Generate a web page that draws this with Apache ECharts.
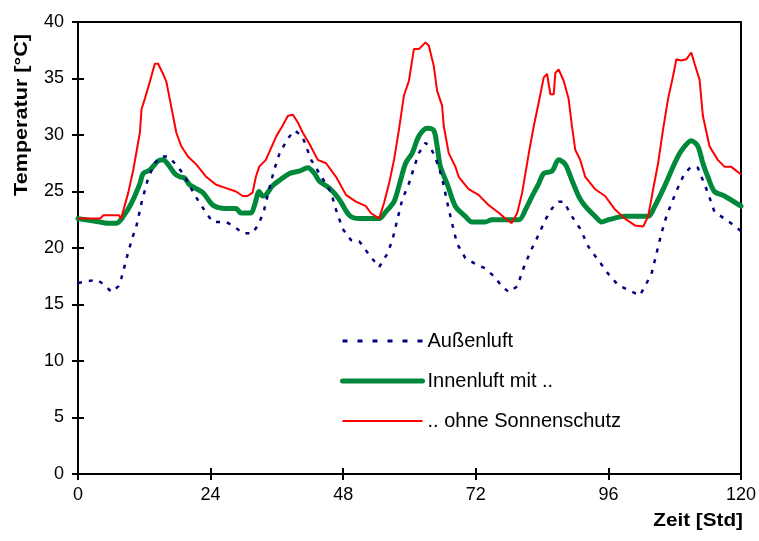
<!DOCTYPE html>
<html>
<head>
<meta charset="utf-8">
<script src="https://cdn.jsdelivr.net/npm/echarts@6/dist/echarts.min.js"></script>
<style>html,body{margin:0;padding:0;background:#fff}#c{width:759px;height:541px}</style>
</head>
<body>
<div id="c"></div>
<script>
const xTicks = [0, 24, 48, 72, 96, 120];
const yTicks = [0, 5, 10, 15, 20, 25, 30, 35, 40];
const seriesNames = ['Außenluft', 'Innenluft mit ..', '.. ohne Sonnenschutz'];

// Außenluft [hour, °C]
const aussen = [[0,16.9],[3.4,17.2],[4.6,16.8],[6.1,16.1],[7.3,16.6],[7.9,17.4],[8.8,19.1],[9.7,20.7],[10.6,22.0],[11.5,24.0],[12.7,26.2],[13.9,27.5],[15.1,28.1],[16.3,28.1],[17.5,27.5],[19,26.6],[21.1,24.7],[23.2,23.1],[24.4,22.3],[26.8,22.3],[28.3,21.9],[29.8,21.3],[31.6,21.3],[32.8,22.2],[33.7,23.4],[34.6,25.2],[35.5,26.9],[36.5,28.4],[38,29.7],[39.2,30.4],[40.6,29.9],[42.2,27.8],[43.7,26.6],[45.8,24.9],[46.7,23.4],[47.9,21.7],[49.4,20.7],[50.9,20.6],[52.7,19.4],[54.5,18.3],[56,19.5],[56.9,20.7],[57.8,22.5],[58.7,24.3],[59.9,25.7],[60.8,27.1],[61.7,28.4],[62.9,29.3],[63.8,28.9],[64.7,28.0],[65.9,26.2],[66.8,24.1],[67.7,22.2],[68.6,20.4],[70.1,19.1],[71.9,18.6],[73.7,18.2],[75.5,17.4],[76.7,16.6],[78,16.1],[79.5,16.6],[80.7,18.3],[81.9,19.7],[83.1,20.9],[84.6,22.5],[85.8,23.5],[87,24.1],[87.9,24.1],[89.4,22.8],[90.9,21.7],[92.4,20.1],[94.2,18.9],[96,17.7],[97.8,16.7],[99.6,16.3],[101.7,15.8],[102.6,16.6],[103.8,17.7],[104.7,19.5],[105.6,21.3],[106.5,22.8],[107.7,24.3],[108.9,25.7],[109.8,26.6],[111,27.2],[112.2,27.1],[113.1,26.0],[114,24.9],[115.2,23.2],[116.4,22.8],[117.9,22.3],[120,21.5]];

// Innenluft mit Sonnenschutz [hour, °C]
const innenMit = [[0,22.6],[4,22.3],[5.2,22.2],[7,22.2],[8.2,22.8],[9.7,24.0],[11.2,25.7],[11.8,26.6],[13,26.9],[14.5,27.7],[15.4,27.8],[16.3,27.4],[17.5,26.6],[18.4,26.3],[19.3,26.2],[20.2,25.6],[22.6,24.9],[24.4,23.8],[26.8,23.5],[28.6,23.5],[29.5,23.1],[31.3,23.1],[31.9,23.7],[32.8,25.0],[33.4,24.6],[34,24.7],[35.2,25.5],[36.5,26.0],[38.3,26.6],[40,26.8],[41.6,27.1],[42.8,26.6],[43.7,25.9],[45.5,25.3],[47.3,24.3],[49.1,22.9],[50.9,22.6],[54.5,22.6],[55.7,23.2],[57.2,24.1],[58.1,25.5],[59.3,27.5],[60.5,28.4],[61.7,29.9],[63.2,30.6],[64.4,30.4],[65,29.0],[65.6,27.2],[66.8,25.7],[68.3,23.7],[70.1,22.8],[71.3,22.3],[73.7,22.3],[74.9,22.5],[79.8,22.5],[81,23.4],[82.2,24.6],[83.4,25.7],[84.3,26.6],[85.8,26.8],[87,27.8],[88.2,27.4],[89.4,26.0],[90.6,24.6],[91.8,23.7],[93.6,22.8],[94.8,22.3],[96,22.5],[99,22.8],[103.2,22.8],[104.4,23.7],[106.2,25.5],[108,27.5],[109.2,28.6],[111,29.5],[112.2,29.0],[113.1,27.5],[114,26.3],[115.2,25.0],[117,24.6],[120,23.7]];

// Innenluft ohne Sonnenschutz [hour, °C]
const innenOhne = [[0,22.6],[4,22.6],[4.6,22.9],[7.4,22.9],[7.8,22.6],[9.1,24.9],[10,26.9],[11.2,30.2],[11.5,32.3],[12.1,33.2],[13,34.7],[13.9,36.3],[14.5,36.3],[15.4,35.4],[16,34.7],[16.6,33.2],[17.2,31.7],[17.8,30.2],[18.7,29.0],[19.9,28.1],[21.4,27.4],[23.2,26.3],[25,25.6],[26.8,25.3],[28.6,25.0],[29.8,24.6],[30.7,24.6],[31.6,24.9],[32.2,26.3],[32.8,27.2],[34,27.8],[35,28.9],[35.9,29.9],[37,30.8],[38,31.7],[38.9,31.8],[39.8,31.1],[40.7,30.2],[41.9,29.2],[43.4,27.8],[44.9,27.5],[46.7,26.3],[48.5,24.7],[50.3,24.1],[52.1,23.7],[53,23.1],[54.5,22.6],[55.4,24.0],[56.3,25.7],[57.2,27.8],[58.1,30.5],[59,33.5],[59.9,34.8],[60.8,37.6],[61.7,37.6],[62.9,38.2],[63.5,37.9],[64.4,36.1],[65,33.9],[65.9,32.6],[66.2,30.8],[67.1,28.4],[68.3,27.2],[68.9,26.3],[70.7,25.2],[72.5,24.7],[74.3,23.8],[76.2,23.1],[77.6,22.5],[78.5,22.2],[79.5,23.1],[80.4,24.9],[81.6,28.4],[82.5,30.8],[83.4,32.9],[84.3,35.1],[84.9,35.4],[85.5,33.6],[86.1,33.6],[86.4,35.5],[87,35.8],[87.9,34.8],[88.8,33.2],[89.4,30.8],[90,28.7],[90.9,27.8],[91.8,26.3],[93.6,25.2],[95.4,24.6],[97.2,23.4],[99,22.6],[100.8,22.0],[102.3,21.9],[103.2,22.8],[104.1,25.2],[105,27.5],[105.9,30.5],[106.8,33.2],[107.7,35.2],[108.3,36.7],[109.2,36.6],[110.1,36.7],[111,37.3],[111.6,36.3],[112.5,34.9],[113.1,31.7],[114.3,29.0],[115.8,27.8],[117,27.2],[118.2,27.2],[120,26.5]];

const COL_AUSSEN = '#000080', COL_MIT = '#00893a', COL_OHNE = '#ff0000';
const chart = echarts.init(document.getElementById('c'), null, {renderer: 'canvas'});
const FONT = '"Liberation Sans", Arial, sans-serif';
const axisLineStyle = {color: '#000', width: 2};
const baseX = {
  type: 'value', min: xTicks[0], max: xTicks[xTicks.length - 1], interval: 24,
  splitLine: {show: false},
  axisLine: {show: true, lineStyle: axisLineStyle}
};
const baseY = {
  type: 'value', min: yTicks[0], max: yTicks[yTicks.length - 1], interval: 5,
  splitLine: {show: false},
  axisLine: {show: true, lineStyle: axisLineStyle}
};
chart.setOption({
  animation: false,
  backgroundColor: '#fff',
  textStyle: {fontFamily: FONT},
  grid: {left: 78, right: 17, top: 22, bottom: 67, show: true, borderColor: '#000', borderWidth: 2, backgroundColor: 'transparent'},
  xAxis: [
    Object.assign({}, baseX, {
      position: 'bottom',
      axisTick: {show: true, length: 6, lineStyle: {color: '#000', width: 2}},
      axisLabel: {color: '#000', fontSize: 18, margin: 12, fontFamily: FONT}
    }),
    Object.assign({}, baseX, {
      position: 'bottom',
      axisTick: {show: true, inside: true, length: 6, lineStyle: {color: '#000', width: 2}},
      axisLabel: {show: false}
    })
  ],
  yAxis: [
    Object.assign({}, baseY, {
      position: 'left',
      axisTick: {show: true, length: 6, lineStyle: {color: '#000', width: 2}},
      axisLabel: {color: '#000', fontSize: 18, margin: 14, fontFamily: FONT}
    }),
    Object.assign({}, baseY, {
      position: 'left',
      axisTick: {show: true, inside: true, length: 6, lineStyle: {color: '#000', width: 2}},
      axisLabel: {show: false}
    })
  ],
  legend: {
    orient: 'vertical', left: 335, top: 326,
    itemWidth: 80, itemHeight: 14, itemGap: 20,
    itemStyle: {opacity: 0},
    data: [
      {name: seriesNames[0], lineStyle: {color: COL_AUSSEN, width: 3, type: [5, 10]}, itemStyle: {opacity: 0}},
      {name: seriesNames[1], lineStyle: {color: COL_MIT, width: 5, cap: 'round'}, itemStyle: {opacity: 0}},
      {name: seriesNames[2], lineStyle: {color: COL_OHNE, width: 2}, itemStyle: {opacity: 0}}
    ],
    textStyle: {color: '#000', fontSize: 20, fontFamily: FONT, padding: [0, 0, 0, 0]}
  },
  graphic: [
    {type: 'text', x: 22, y: 115, rotation: Math.PI / 2, scaleX: 1.2,
     style: {text: 'Temperatur [°C]', font: 'bold 18px ' + FONT, fill: '#000', align: 'center', verticalAlign: 'middle'}},
    {type: 'text', x: 743, y: 521, scaleX: 1.15,
     style: {text: 'Zeit [Std]', font: 'bold 18px ' + FONT, fill: '#000', align: 'right', verticalAlign: 'middle'}}
  ],
  series: [
    {name: seriesNames[0], type: 'line', data: aussen, symbol: 'none', smooth: false,
     lineStyle: {color: COL_AUSSEN, width: 2.5, type: [4, 7]}, itemStyle: {color: COL_AUSSEN}, z: 3},
    {name: seriesNames[1], type: 'line', data: innenMit, symbol: 'none', smooth: 0.3,
     lineStyle: {color: COL_MIT, width: 5, cap: 'round', join: 'round'}, itemStyle: {color: COL_MIT}, z: 2},
    {name: seriesNames[2], type: 'line', data: innenOhne, symbol: 'none', smooth: false,
     lineStyle: {color: COL_OHNE, width: 2}, itemStyle: {color: COL_OHNE}, z: 4}
  ]
});
</script>
</body>
</html>
